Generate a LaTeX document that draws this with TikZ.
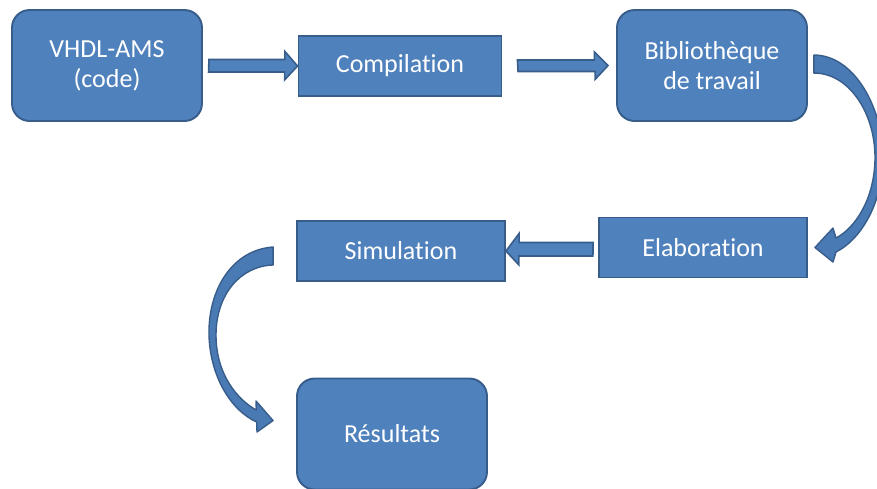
\documentclass[tikz,border=0pt]{standalone}
\usepackage{fontspec}
\setmainfont{Carlito}[Ligatures=NoCommon]
\usetikzlibrary{calc}

\definecolor{boxblue}{HTML}{4F81BD}
\definecolor{edgeblue}{HTML}{385D8A}
\definecolor{arrowblue}{HTML}{4A7AB4}

\tikzset{
    stepbox/.style={draw=edgeblue, fill=boxblue, line width=1.1pt, text=white,
        font=\fontsize{14.8}{17}\selectfont, align=center, inner sep=0pt},
    roundbox/.style={stepbox, rounded corners=10pt, minimum width=3.8cm, minimum height=2.22cm},
    flatbox/.style={stepbox, minimum height=1.2cm},
    blockarrow/.style={draw=edgeblue, fill=boxblue, line width=0.9pt, line join=miter},
    bentarrow/.style={draw=edgeblue, fill=arrowblue, line width=0.8pt, line join=round}
}

\begin{document}
\begin{tikzpicture}[x=0.02cm, y=-0.02cm]
        \useasboundingbox (0,0) rectangle (877,488);
        % boxes
        \node[roundbox] (vhdl) at (107,65.5) {VHDL-AMS\\(code)};
        \node[flatbox, minimum width=4.06cm] (comp) at (400,66) {Compilation};
        \node[roundbox] (bib) at (712,65.5) {Bibliothèque\\de travail};
        \node[flatbox, minimum width=4.16cm] (elab) at (703,247.5) {Elaboration};
        \node[flatbox, minimum width=4.16cm] (sim) at (401,251) {Simulation};
        \node[roundbox] (res) at (392,434) {Résultats};

        % straight arrows
        \draw[blockarrow] ($(vhdl.east)+(6,-6)$) -- ++(76,0) -- ++(0,-8) -- (comp.west)
            -- ++(-13,14) -- ++(0,-8) -- ++(-76,0) -- cycle;
        \draw[blockarrow] ($(comp.east)+(15,-6)$) -- ++(77,0) -- ++(0,-8) -- ($(bib.west)+(-8,0)$)
            -- ++(-13,14) -- ++(0,-8) -- ++(-77,0) -- cycle;
        \draw[blockarrow] ($(elab.west)+(-5,-5)$) -- ++(-74,0) -- ++(0,-9) -- (sim.east)
            -- ++(13,14) -- ++(0,-9) -- ++(74,0) -- cycle;

        % bent arrows
        \draw[bentarrow] ($(bib.north east)+(6,46)$) .. controls (855,55) and (884,110) .. (883,160)
            .. controls (882,205) and (860,240) .. (836,252) -- (833,262) -- ($(elab.east)+(7,0)$)
            -- (833,228) -- (836,238) .. controls (855,228) and (874,200) .. (875,160)
            .. controls (876,115) and (850,73) .. ($(bib.north east)+(6,64)$) -- cycle;
        \draw[bentarrow] ($(sim.west)+(-23,-4)$) .. controls (232,250) and (208,290) .. (209,335)
            .. controls (210,375) and (230,410) .. (256.7,422) -- (257,432) -- ($(res.north west)+(-23,43)$)
            -- (256,401) -- (256.3,410) .. controls (238,400) and (216,375) .. (216,335)
            .. controls (216,295) and (240,266) .. ($(sim.west)+(-23,14)$) -- cycle;
\end{tikzpicture}
\end{document}
